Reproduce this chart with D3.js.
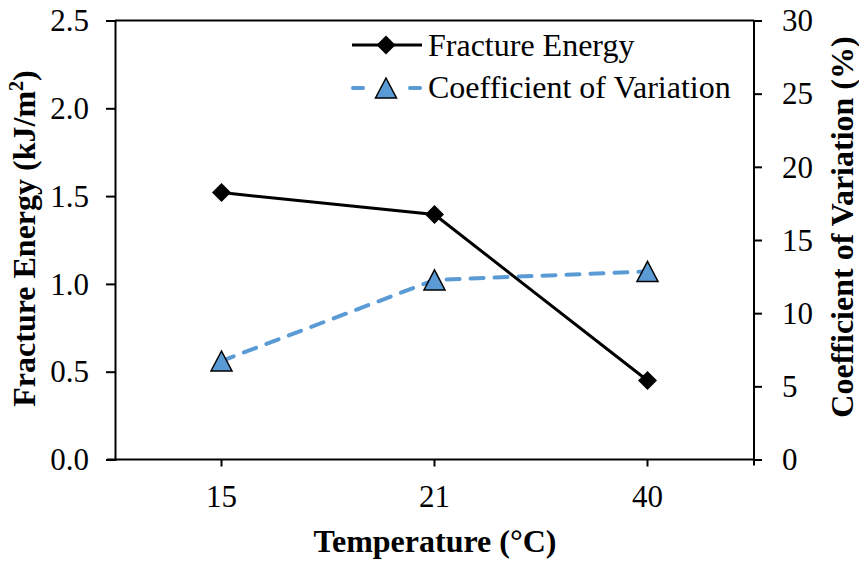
<!DOCTYPE html>
<html><head><meta charset="utf-8">
<script src="https://cdn.jsdelivr.net/npm/d3@7"></script>
<style>
html,body{margin:0;padding:0;background:#fff;}
svg text{font-family:"Times New Roman","Liberation Serif",Tinos,"DejaVu Serif",serif;fill:#000;}
</style></head>
<body><svg id="chart" width="859" height="563"></svg>
<script>
const categories = ["15", "21", "40"];
const fractureEnergy = [1.52, 1.395, 0.45];
const coefVariation = [6.73, 12.27, 12.85];
const leftTicks = [0, 0.5, 1.0, 1.5, 2.0, 2.5];
const rightTicks = [0, 5, 10, 15, 20, 25, 30];
const seriesNames = ["Fracture Energy", "Coefficient of Variation"];

const svg = d3.select("#chart");
const m = {left:115, right:754, top:20.5, bottom:459.5};
const blue = "#5B9BD5";
const serif = '"Times New Roman","Liberation Serif",Tinos,"DejaVu Serif",serif';
const tickFont = 31;

const x = d3.scaleBand().domain(categories).range([m.left, m.right]);
const yL = d3.scaleLinear().domain([0, 2.5]).range([m.bottom, m.top]);
const yR = d3.scaleLinear().domain([0, 30]).range([m.bottom, m.top]);
const cx = d => x(d) + x.bandwidth()/2;

svg.append("line").attr("x1", m.left).attr("x2", m.right).attr("y1", m.top).attr("y2", m.top)
  .attr("stroke", "#000").attr("stroke-width", 2);

const gL = svg.append("g").attr("transform", `translate(${m.left},0)`)
  .call(d3.axisLeft(yL).tickValues(leftTicks).tickFormat(d3.format(".1f")).tickSizeOuter(0).tickSize(9).tickPadding(17));
const gR = svg.append("g").attr("transform", `translate(${m.right},0)`)
  .call(d3.axisRight(yR).tickValues(rightTicks).tickFormat(d3.format("d")).tickSizeOuter(0).tickSize(8).tickPadding(20));
const gB = svg.append("g").attr("transform", `translate(0,${m.bottom})`)
  .call(d3.axisBottom(x).tickSizeOuter(0).tickSize(7).tickPadding(18.5));

[gL, gR, gB].forEach(g => {
  g.attr("font-family", serif).attr("font-size", tickFont);
  g.select(".domain").attr("stroke", "#000").attr("stroke-width", 2);
  g.selectAll(".tick line").attr("stroke", "#000").attr("stroke-width", 2);
  g.selectAll(".tick text").style("font-family", serif).style("font-weight", "normal").attr("font-size", tickFont).attr("fill", "#000");
});
gL.selectAll(".tick text").attr("dy", "0.33em");
gR.selectAll(".tick text").attr("dy", "0.33em");
gB.selectAll(".tick text").attr("dy", "0.71em");
gR.select(".domain").attr("d", `M0,${m.top}V${m.bottom+6}`);
gB.select(".domain").attr("d", `M${m.left - 8},0H${m.right}`);

svg.append("text").attr("x", 435).attr("y", 552).attr("text-anchor", "middle")
  .attr("font-size", 32).attr("font-weight", "bold").text("Temperature (°C)");
const lt = svg.append("text").attr("transform", `translate(35,238.5) rotate(-90)`)
  .attr("text-anchor", "middle").attr("font-size", 32).attr("font-weight", "bold");
lt.append("tspan").text("Fracture Energy (kJ/m");
lt.append("tspan").attr("font-size", 20).attr("dy", -12).text("2");
lt.append("tspan").attr("dy", 12).text(")");
svg.append("text").attr("transform", `translate(853,227) rotate(-90)`)
  .attr("text-anchor", "middle").attr("font-size", 32).attr("font-weight", "bold")
  .text("Coefficient of Variation (%)");

const diamond = r => `M0,${-r}L${r},0L0,${r}L${-r},0Z`;
const triangle = (w, h) => `M0,${-h/2}L${w/2},${h/2}L${-w/2},${h/2}Z`;

const lineR = d3.line().x((d,i) => cx(categories[i])).y(d => yR(d));
svg.append("path").datum(coefVariation).attr("d", lineR).attr("fill", "none")
  .attr("stroke", blue).attr("stroke-width", 4).attr("stroke-dasharray", "13,11").attr("stroke-linecap", "round");
svg.selectAll(".tri").data(coefVariation).join("path").attr("class", "tri")
  .attr("transform", (d,i) => `translate(${cx(categories[i])},${yR(d)})`)
  .attr("d", triangle(21, 20)).attr("fill", blue).attr("stroke", "#000").attr("stroke-width", 1.5);

const lineL = d3.line().x((d,i) => cx(categories[i])).y(d => yL(d));
svg.append("path").datum(fractureEnergy).attr("d", lineL).attr("fill", "none")
  .attr("stroke", "#000").attr("stroke-width", 3);
svg.selectAll(".dia").data(fractureEnergy).join("path").attr("class", "dia")
  .attr("transform", (d,i) => `translate(${cx(categories[i])},${yL(d)})`)
  .attr("d", diamond(9.5)).attr("fill", "#000");

const lg = svg.append("g");
lg.append("line").attr("x1", 352).attr("x2", 422).attr("y1", 45).attr("y2", 45).attr("stroke", "#000").attr("stroke-width", 3);
lg.append("path").attr("transform", "translate(386,45)").attr("d", diamond(9.5)).attr("fill", "#000");
lg.append("text").attr("x", 428).attr("y", 56).attr("font-size", 32).style("font-weight", "normal").text(seriesNames[0]);
lg.append("line").attr("x1", 353).attr("x2", 363).attr("y1", 88).attr("y2", 88).attr("stroke", blue).attr("stroke-width", 4).attr("stroke-linecap", "round");
lg.append("line").attr("x1", 410).attr("x2", 420).attr("y1", 88).attr("y2", 88).attr("stroke", blue).attr("stroke-width", 4).attr("stroke-linecap", "round");
lg.append("path").attr("transform", "translate(386,88)").attr("d", triangle(21, 20)).attr("fill", blue).attr("stroke", "#000").attr("stroke-width", 1.5);
lg.append("text").attr("x", 428).attr("y", 98).attr("font-size", 32).style("font-weight", "normal").text(seriesNames[1]);
</script></body></html>
